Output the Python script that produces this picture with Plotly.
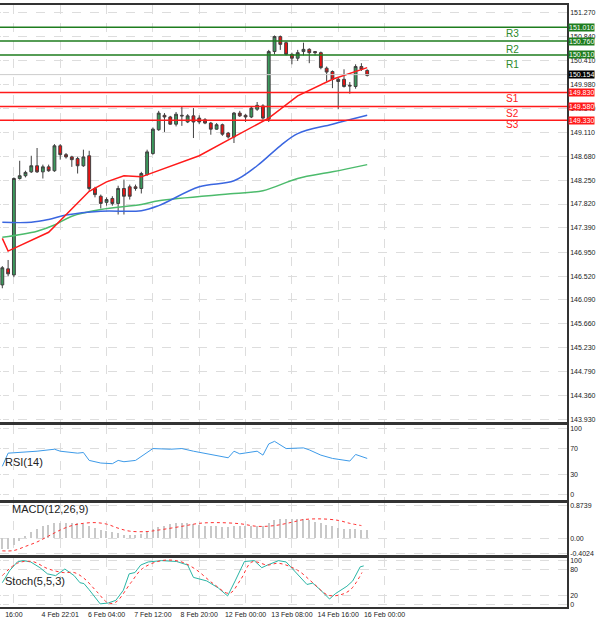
import plotly.graph_objects as go
from plotly.subplots import make_subplots

# ---- data ----
opens  = [146.36,146.65,146.54,148.28,148.33,148.40,148.51,148.40,148.49,148.42,148.87,148.71,148.67,148.64,148.51,148.69,148.10,147.96,147.85,147.92,
          147.83,148.10,148.13,148.13,148.10,148.35,148.73,149.16,149.42,149.39,149.26,149.42,149.30,149.41,149.37,149.34,149.28,149.17,149.25,149.10,
          149.03,149.46,149.42,149.39,149.53,149.59,149.35,150.57,150.84,150.73,150.52,150.45,150.57,150.61,150.57,150.55,150.27,150.21,150.07,150.07,
          149.96,149.94,150.30,150.23]
highs  = [146.70,146.81,148.30,148.60,148.42,148.69,148.83,148.53,148.53,148.90,148.90,148.74,148.69,148.67,148.80,148.78,148.13,147.99,147.94,147.96,
          148.15,148.26,148.17,148.17,148.40,148.80,149.20,149.50,149.46,149.41,149.48,149.57,149.44,149.55,149.42,149.37,149.30,149.28,149.27,149.12,
          149.48,149.50,149.44,149.57,149.66,149.62,150.60,150.86,150.86,150.75,150.55,150.60,150.73,150.63,150.58,150.57,150.30,150.23,150.10,150.25,
          150.02,150.34,150.36,150.25]
lows   = [146.30,146.52,146.50,148.26,148.30,148.38,148.38,148.28,148.40,148.40,148.62,148.64,148.49,148.37,148.49,148.06,147.94,147.74,147.79,147.79,
          147.63,147.63,147.90,148.06,148.01,148.33,148.71,149.14,149.12,149.25,149.22,149.23,149.28,149.01,149.26,149.26,149.07,149.16,149.05,149.00,
          148.92,149.39,149.30,149.37,149.50,149.34,149.30,150.52,150.60,150.50,150.34,150.40,150.50,150.36,150.50,150.25,150.03,149.91,149.53,149.92,
          149.81,149.90,150.22,150.12]
closes = [146.67,146.56,148.28,148.33,148.39,148.51,148.40,148.49,148.42,148.87,148.71,148.67,148.62,148.51,148.67,148.10,147.99,147.83,147.90,147.83,
          148.10,147.96,147.96,148.10,148.37,148.76,149.17,149.46,149.39,149.26,149.44,149.41,149.41,149.30,149.30,149.28,149.17,149.25,149.08,149.03,
          149.46,149.41,149.39,149.55,149.60,149.37,150.57,150.84,150.70,150.52,150.45,150.55,150.61,150.55,150.55,150.28,150.20,150.07,150.03,149.94,
          149.95,150.30,150.25,150.14]

ma_red_x = [0,1,8,12,15,18,21,24,28,34,40,46,51,57,63]
ma_red_y = [147.20,146.97,147.31,147.74,148.05,148.22,148.33,148.31,148.46,148.69,149.03,149.37,149.77,150.07,150.28]
ma_blue_x = [0,5,8,11,17,24,27,34,40,44,48,51,57,63]
ma_blue_y = [147.49,147.49,147.54,147.62,147.69,147.70,147.79,148.13,148.24,148.51,148.87,149.09,149.26,149.42]
ma_green_x = [0,6,9,12,17,24,27,40,45,51,57,63]
ma_green_y = [147.22,147.33,147.44,147.60,147.72,147.81,147.88,148.01,148.06,148.28,148.40,148.53]

levels = [("R3",151.010,150.89,"green"),("R2",150.760,150.61,"green"),("R1",150.510,150.34,"green"),
          ("S1",149.830,149.73,"red"),("S2",149.580,149.46,"red"),("S3",149.330,149.26,"red")]
current_price = 150.154

price_ticks = [151.270,150.840,150.410,149.980,149.540,149.110,148.680,148.250,147.820,147.390,146.950,
               146.520,146.090,145.660,145.230,144.790,144.360,143.930]

rsi_x = [0,1,6,9,10,13,14,15,17,19,20,21,23,26,29,31,33,37,39,40,41,44,45,46,47,49,52,53,55,57,60,61,63]
rsi_y = [43,63,66,69,66,63,64,52,48,47,52,50,52,70,69,70,66,60,56,66,62,66,60,77,81,70,71,68,60,55,51,61,55]

macd_hist = [-0.30,-0.30,-0.18,-0.06,0.06,0.18,0.26,0.32,0.37,0.40,0.42,0.42,0.42,0.40,0.38,0.34,0.29,0.23,0.19,0.16,
             0.13,0.10,0.08,0.09,0.12,0.18,0.24,0.30,0.34,0.38,0.41,0.42,0.41,0.38,0.36,0.34,0.33,0.32,0.31,0.30,
             0.32,0.33,0.33,0.34,0.34,0.34,0.42,0.48,0.51,0.51,0.51,0.51,0.51,0.48,0.45,0.40,0.36,0.32,0.28,0.26,
             0.24,0.24,0.22,0.22]
macd_sig_x = [0,2,4,6,8,10,12,14,16,18,20,22,25,27,31,34,37,41,44,47,50,52,55,58,60,62]
macd_sig_y = [-0.34,-0.33,-0.22,-0.10,0.06,0.22,0.34,0.40,0.42,0.38,0.27,0.19,0.18,0.22,0.32,0.40,0.42,0.39,0.32,0.34,0.43,0.50,0.52,0.48,0.40,0.34]

stoch_x = [0,1.3,2.6,3.6,4.9,6.5,7.8,9.2,10.8,12.4,13.4,14.1,15,16,16.9,18.3,19.6,20.9,21.9,22.9,23.9,25.2,27.5,30.1,32,33,35.3,37.3,38.9,40.2,
           41.8,43.5,44.8,45.8,47.7,49,51,52.6,53.6,54.9,56.5,57.5,59.5,60.5,61.8,62.4]
stoch_y = [50,78,97,100,97,84,70,66,81,66,50,48,34,18,2,4,10,33,70,73,90,97,100,98,90,62,54,38,20,54,
           98,100,84,90,100,97,70,46,49,34,13,25,42,54,86,88]
stoch_sig_x = [0,2.6,5.2,7.8,10.5,12.4,14.1,16.3,18.3,19.6,22.2,24.2,27.5,30.7,33.3,36.6,39.2,41.2,43.1,45.8,47.7,51,53.6,56.2,58.2,60.1,62.1]
stoch_sig_y = [66,94,98,82,73,73,60,30,4,6,50,82,100,98,81,46,26,58,97,90,94,78,50,22,22,34,73]

x_tickvals = [2,10,18,26,34,42,50,58,66]
x_ticktext = ["16:00","4 Feb 22:01","6 Feb 04:00","7 Feb 12:00","8 Feb 20:00","12 Feb 00:00","13 Feb 08:00","14 Feb 16:00","16 Feb 00:00"]

# ---- figure ----
GREEN = "#1e7d1e"; RED = "#ff1a1a"
fig = make_subplots(rows=4, cols=1, shared_xaxes=True)
idx = list(range(len(opens)))
fig.add_trace(go.Candlestick(x=idx, open=opens, high=highs, low=lows, close=closes,
    increasing=dict(fillcolor="#3a9a5c", line=dict(color="#404040", width=1)),
    decreasing=dict(fillcolor="#ee1111", line=dict(color="#404040", width=1)),
    whiskerwidth=0, showlegend=False), row=1, col=1)
fig.add_trace(go.Scatter(x=ma_green_x, y=ma_green_y, mode="lines", line=dict(color="#4cbb6c", width=1.5), line_shape="spline"), row=1, col=1)
fig.add_trace(go.Scatter(x=ma_blue_x, y=ma_blue_y, mode="lines", line=dict(color="#3a66e0", width=1.5), line_shape="spline"), row=1, col=1)
fig.add_trace(go.Scatter(x=ma_red_x, y=ma_red_y, mode="lines", line=dict(color="#ff1a1a", width=1.5)), row=1, col=1)

fig.add_trace(go.Scatter(x=rsi_x, y=rsi_y, mode="lines", line=dict(color="#3d9ae8", width=1)), row=2, col=1)
fig.add_trace(go.Bar(x=idx, y=macd_hist, marker=dict(color="#c8c8c8", line=dict(width=0)), width=0.25), row=3, col=1)
fig.add_trace(go.Scatter(x=macd_sig_x, y=macd_sig_y, mode="lines", line=dict(color="#ff3030", width=1, dash="dot"), line_shape="spline"), row=3, col=1)
fig.add_trace(go.Scatter(x=stoch_x, y=stoch_y, mode="lines", line=dict(color="#2ab5a5", width=1)), row=4, col=1)
fig.add_trace(go.Scatter(x=stoch_sig_x, y=stoch_sig_y, mode="lines", line=dict(color="#ff3030", width=1, dash="dot"), line_shape="spline"), row=4, col=1)

fig.add_hline(y=current_price, line=dict(color="#cccccc", width=1), row=1, col=1)
for name, val, ty, col in levels:
    c = GREEN if col == "green" else RED
    fig.add_hline(y=val, line=dict(color=c, width=1.5), row=1, col=1)
    fig.add_annotation(x=0.919, xref="paper", y=ty, yref="y", text=name, showarrow=False,
                       font=dict(size=10, color="#2a8a2a" if col == "green" else RED))
    fig.add_annotation(x=1.0, xref="paper", y=val, yref="y", text=f"{val:.3f}", showarrow=False,
                       xanchor="left", xshift=1, bgcolor=c, font=dict(size=7, color="white"), borderpad=0)
fig.add_annotation(x=1.0, xref="paper", y=current_price, yref="y", text=f"{current_price:.3f}", showarrow=False,
                   xanchor="left", xshift=1, bgcolor="black", font=dict(size=7, color="white"), borderpad=0)

for txt, yy, xx, sz in [("RSI(14)", 0.232, 0.005, 11), ("MACD(12,26,9)", 0.153, 0.018, 11), ("Stoch(5,5,3)", 0.035, 0.005, 11)]:
    fig.add_annotation(x=xx, y=yy, xref="paper", yref="paper", text=txt, showarrow=False, xanchor="left",
                       font=dict(size=sz, color="#222"))

grid = dict(showgrid=True, gridcolor="#dddddd", griddash="dash", gridwidth=1)
axline = dict(showline=True, linecolor="#333333", linewidth=1.5, mirror=True)
doms = [[0.311, 1.0], [0.182, 0.306], [0.091, 0.177], [0.005, 0.086]]
for i in range(1, 5):
    fig.update_yaxes(row=i, col=1, side="right", domain=doms[i-1], tickfont=dict(size=7, color="#222"),
                     zeroline=False, ticks="", automargin=False, **grid, **axline)
    fig.update_xaxes(row=i, col=1, range=[-0.4, 97.5], tickvals=x_tickvals, ticktext=x_ticktext, tickangle=0,
                     showticklabels=(i == 4), tickfont=dict(size=7, color="#222"), rangeslider=dict(visible=False),
                     automargin=False, ticks="", **grid, **axline)
fig.update_yaxes(row=1, col=1, range=[143.89, 151.41], tickvals=price_ticks, ticktext=[f"{v:.3f}" for v in price_ticks])
fig.update_yaxes(row=2, col=1, range=[-8, 106], tickvals=[0, 30, 70, 100])
fig.update_yaxes(row=3, col=1, range=[-0.45, 0.95], tickvals=[-0.4024, 0, 0.8739], ticktext=["-0.4024", "0.00", "0.8739"])
fig.update_yaxes(row=4, col=1, range=[-5, 106], tickvals=[0, 20, 80, 100])

fig.update_layout(width=600, height=625, margin=dict(l=0, r=33, t=5, b=15, autoexpand=False), plot_bgcolor="white",
                  paper_bgcolor="white", showlegend=False, font=dict(family="Liberation Sans"), bargap=0)
fig.write_html("out.html", config={"displayModeBar": False},
               post_script="document.body.style.margin='0';document.body.style.overflow='hidden';")
